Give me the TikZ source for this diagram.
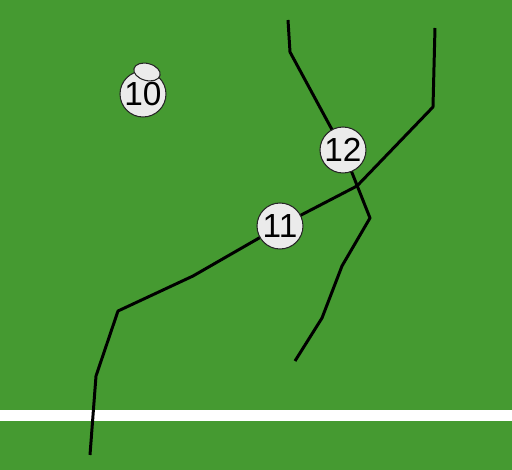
\documentclass[tikz,border=0pt]{standalone}
\usepackage{fontspec}
\setmainfont{Liberation Sans}
\usepackage{tikz}
\usetikzlibrary{positioning,shapes.geometric}
\definecolor{pitch}{HTML}{459A31}
\definecolor{disc}{HTML}{EBEBEB}

\begin{document}
\begin{tikzpicture}[
        x=0.02cm, y=-0.02cm,
        player/.style={circle, draw=black!85, line width=0.6pt, fill=disc, minimum size=0.92cm, inner sep=0pt, font=\fontsize{19}{20}\selectfont},
        ball/.style={ellipse, draw=black!85, line width=0.6pt, fill=disc, minimum width=0.54cm, minimum height=0.34cm, inner sep=0pt, rotate=-15},
        run/.style={line width=1.7pt, line join=round, black}
    ]

    % Pitch
    \fill[pitch] (0,0) rectangle (512,470);
    \fill[white] (0,410) rectangle (512,421);
    \useasboundingbox (0,0) rectangle (512,470);

    % Path points
    \coordinate (a0) at (90,455);
    \coordinate (a1) at (96,376);
    \coordinate (a2) at (118,311);
    \coordinate (a3) at (193,276);
    \coordinate (a4) at (357,186);
    \coordinate (a5) at (433,107);
    \coordinate (a6) at (435,28);

    \coordinate (b0) at (288,20);
    \coordinate (b1) at (290,52);
    \coordinate (b2) at (370,218);
    \coordinate (b3) at (342,266);
    \coordinate (b4) at (322,318);
    \coordinate (b5) at (295,361);

    \coordinate (c10) at (143,94);
    \coordinate (c11) at (280,226);
    \coordinate (c12) at (343,150);

    % Runs
    \draw[run] (a0) -- (a1) -- (a2) -- (a3) -- (c11) -- (a4) -- (a5) -- (a6);
    \draw[run] (b0) -- (b1) -- (c12) -- (b2) -- (b3) -- (b4) -- (b5);

    % Players
    \node[player] (p10) at (c10) {10};
    \node[ball] (ball) at (147,72) {};
    \node[player] (p11) at (c11) {11};
    \node[player] (p12) at (c12) {12};

\end{tikzpicture}
\end{document}
